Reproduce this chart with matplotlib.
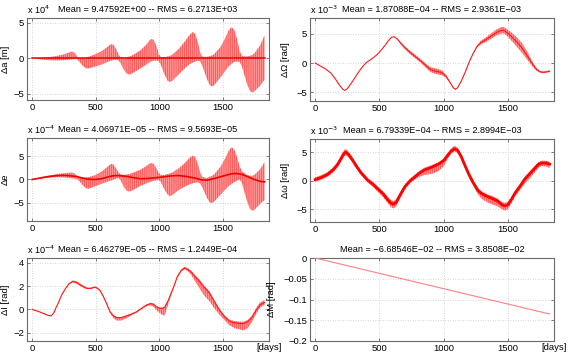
import numpy as np
import matplotlib
matplotlib.use("Agg")
import matplotlib.pyplot as plt

plt.rcParams['font.family'] = ['Liberation Sans', 'DejaVu Sans']
plt.rcParams['font.size'] = 6.8
plt.rcParams['hatch.linewidth'] = 0.4
plt.rcParams['axes.unicode_minus'] = True

# ---------------- data ----------------
# envelope grid for delta-a and delta-e (days)
days_env = [0, 50, 100, 150, 200, 250, 280, 300, 315, 330, 345, 358, 375, 400, 420, 435, 450,
            500, 550, 590, 610, 625, 640, 660, 680, 695, 720, 745, 765, 785,
            850, 900, 920, 937, 955, 975, 995, 1010, 1040, 1065, 1082, 1100,
            1150, 1200, 1240, 1262, 1280, 1300, 1320, 1335, 1370, 1395, 1412, 1430,
            1480, 1520, 1545, 1565, 1585, 1605, 1630, 1648, 1685, 1710, 1728, 1745, 1790, 1826]

# delta a  (x 1e4 m)
a_upper = [0, 0.03, 0.1, 0.2, 0.35, 0.55, 0.75, 0.9, 0.95, 0.85, 0.5, 0.12, 0.05, 0.05, 0.1, 0.15, 0.25,
           0.6, 1.05, 1.6, 1.9, 2.0, 1.9, 1.3, 0.5, 0.15, 0.1, 0.15, 0.25, 0.4,
           1.1, 2.0, 2.5, 2.75, 2.6, 1.8, 0.6, 0.2, 0.15, 0.25, 0.35, 0.5,
           1.3, 2.4, 3.4, 3.7, 3.5, 2.4, 0.8, 0.25, 0.2, 0.3, 0.4, 0.6,
           1.6, 3.0, 4.0, 4.4, 4.1, 3.0, 1.0, 0.3, 0.25, 0.35, 0.45, 0.7, 1.8, 3.3]
a_lower = [0, -0.12, -0.22, -0.28, -0.3, -0.27, -0.22, -0.18, -0.15, -0.12, -0.1, -0.2, -0.6, -1.1, -1.4, -1.45, -1.4,
           -1.15, -0.85, -0.55, -0.4, -0.3, -0.25, -0.2, -0.3, -0.7, -1.6, -2.2, -2.3, -2.15,
           -1.45, -0.85, -0.6, -0.45, -0.35, -0.3, -0.4, -0.9, -2.3, -3.2, -3.35, -3.2,
           -2.3, -1.4, -0.8, -0.6, -0.45, -0.35, -0.45, -1.0, -2.8, -3.8, -4.0, -3.8,
           -2.7, -1.7, -1.1, -0.8, -0.55, -0.45, -0.5, -1.2, -3.5, -4.6, -4.85, -4.7, -3.9, -3.0]
a_center_days = [0, 1826]
a_center = [0.0, 0.0]

# delta e  (x 1e-4)
e_center = [0, 0.25, 0.5, 0.7, 0.85, 0.9, 0.85, 0.8, 0.75, 0.7, 0.65, 0.6, 0.45, 0.3, 0.15, 0.1, 0.05,
            0.0, 0.2, 0.5, 0.65, 0.75, 0.8, 0.85, 0.85, 0.8, 0.75, 0.65, 0.55, 0.45,
            0.15, 0.2, 0.25, 0.3, 0.35, 0.4, 0.45, 0.5, 0.6, 0.7, 0.75, 0.8,
            0.85, 0.7, 0.5, 0.4, 0.3, 0.15, 0.0, -0.1, -0.15, 0.0, 0.1, 0.2,
            0.6, 0.9, 1.1, 1.2, 1.3, 1.3, 1.2, 1.1, 0.7, 0.4, 0.2, 0.0, -0.4, -0.5]
e_upper = [0, 0.35, 0.7, 0.95, 1.2, 1.35, 1.45, 1.5, 1.5, 1.35, 1.0, 0.7, 0.5, 0.45, 0.45, 0.5, 0.55,
           1.0, 1.8, 2.7, 3.2, 3.4, 3.2, 2.4, 1.5, 1.1, 1.0, 1.1, 1.2, 1.4,
           2.1, 3.0, 3.4, 3.6, 3.4, 2.5, 1.4, 1.0, 1.0, 1.2, 1.3, 1.5,
           2.4, 3.6, 4.8, 5.2, 4.9, 3.5, 1.5, 0.6, 0.3, 0.6, 0.8, 1.1,
           2.8, 4.8, 6.3, 7.0, 6.6, 5.2, 2.8, 1.8, 1.0, 0.8, 0.8, 1.0, 2.2, 3.8]
e_lower = [0, 0.15, 0.3, 0.45, 0.5, 0.45, 0.35, 0.3, 0.25, 0.2, 0.15, 0.0, -0.5, -1.3, -1.85, -2.0, -1.95,
           -1.4, -0.9, -0.5, -0.3, -0.2, 0.0, 0.2, 0.3, -0.2, -1.6, -2.5, -2.6, -2.4,
           -1.4, -0.8, -0.6, -0.45, -0.3, -0.2, -0.1, -0.5, -2.2, -3.3, -3.6, -3.4,
           -2.3, -1.5, -1.0, -0.8, -0.7, -0.6, -0.9, -1.6, -3.8, -5.0, -5.1, -4.8,
           -3.3, -2.1, -1.4, -1.0, -0.6, -0.3, 0.0, -0.8, -4.5, -6.3, -6.8, -6.6, -5.3, -4.4]

# delta Omega (x 1e-3 rad)
days_O = [0, 40, 80, 122, 160, 190, 215, 230, 250, 280, 310, 340, 370, 400, 440, 480, 510, 540,
          570, 595, 615, 640, 670, 700, 740, 780, 820, 860, 890, 920, 960, 990, 1020, 1050,
          1075, 1092, 1110, 1140, 1170, 1200, 1230, 1260, 1290, 1330, 1370, 1410, 1450, 1470,
          1500, 1530, 1570, 1610, 1650, 1690, 1720, 1750, 1780, 1826]
O_center = [0, -0.5, -1.0, -1.7, -2.8, -3.8, -4.5, -4.7, -4.4, -3.5, -2.5, -1.5, -0.6, 0.1, 0.7, 1.4, 2.1, 2.9,
            3.8, 4.4, 4.5, 4.1, 3.3, 2.6, 1.8, 1.1, 0.4, -0.4, -1.0, -1.3, -1.5, -1.7, -2.3, -3.3,
            -4.2, -4.5, -4.2, -3.0, -1.5, 0.2, 1.6, 2.8, 3.5, 4.0, 4.6, 5.2, 5.6, 5.6,
            5.1, 4.5, 3.6, 2.6, 1.3, -0.1, -1.0, -1.5, -1.6, -1.4]
O_halfwidth = [0, 0, 0, 0, 0, 0, 0, 0, 0, 0, 0, 0, 0, 0, 0, 0, 0, 0,
               0, 0, 0, 0.1, 0.2, 0.25, 0.3, 0.3, 0.3, 0.35, 0.4, 0.45, 0.45, 0.4, 0.25, 0.1,
               0.05, 0.03, 0.03, 0.03, 0.03, 0.03, 0.05, 0.15, 0.3, 0.4, 0.45, 0.5, 0.55, 0.55,
               0.6, 0.7, 0.8, 0.85, 0.7, 0.4, 0.25, 0.15, 0.15, 0.15]

# delta omega (x 1e-3 rad)
days_w = [0, 50, 96, 140, 174, 200, 225, 240, 260, 292, 320, 357, 390, 409, 450, 487, 530, 565,
          590, 610, 630, 669, 700, 740, 773, 810, 852, 900, 930, 960, 1000, 1034, 1060, 1085,
          1110, 1138, 1170, 1200, 1230, 1268, 1300, 1346, 1390, 1424, 1455, 1477, 1500, 1530,
          1555, 1600, 1633, 1670, 1711, 1740, 1763, 1800, 1826]
w_center = [0.2, 0.6, 1.1, 1.9, 2.8, 3.8, 4.8, 5.0, 4.6, 3.6, 2.6, 1.4, 0.6, 0.1, -0.6, -1.4, -2.3, -3.3,
            -3.9, -4.1, -3.8, -2.2, -1.0, 0.0, 0.6, 1.3, 1.9, 2.3, 2.6, 2.9, 3.5, 4.5, 5.2, 5.6,
            5.3, 4.2, 2.5, 1.0, -0.3, -1.7, -2.3, -2.8, -3.2, -3.6, -4.2, -4.4, -4.2, -3.2,
            -2.2, -0.8, 0.3, 1.2, 2.2, 2.9, 3.1, 3.1, 2.9]
w_updev = [0.4, 0.4, 0.4, 0.45, 0.45, 0.5, 0.55, 0.55, 0.5, 0.45, 0.4, 0.4, 0.4, 0.4, 0.4, 0.4, 0.45, 0.5,
           0.55, 0.55, 0.5, 0.45, 0.4, 0.4, 0.4, 0.4, 0.4, 0.35, 0.35, 0.35, 0.35, 0.4, 0.45, 0.5,
           0.5, 0.45, 0.4, 0.4, 0.4, 0.4, 0.4, 0.4, 0.4, 0.45, 0.5, 0.55, 0.5, 0.45,
           0.4, 0.4, 0.4, 0.4, 0.4, 0.4, 0.4, 0.4, 0.4]
w_lodev = [0.4, 0.4, 0.4, 0.45, 0.45, 0.5, 0.55, 0.55, 0.5, 0.45, 0.4, 0.4, 0.4, 0.4, 0.45, 0.5, 0.55, 0.6,
           0.7, 0.75, 0.7, 0.55, 0.45, 0.4, 0.45, 0.6, 0.9, 1.1, 1.2, 1.2, 1.0, 0.6, 0.45, 0.45,
           0.45, 0.45, 0.45, 0.5, 0.5, 0.7, 0.9, 1.0, 1.0, 0.9, 0.8, 0.8, 0.8, 0.7,
           0.6, 0.7, 0.8, 0.8, 0.7, 0.6, 0.5, 0.6, 0.7]

# delta I (x 1e-4 rad)
days_I = [0, 45, 91, 130, 150, 170, 190, 208, 230, 260, 290, 320, 350, 378, 410, 430, 460, 490,
          508, 535, 560, 585, 612, 640, 664, 700, 742, 780, 820, 860, 898, 930, 951, 980, 1003,
          1025, 1042, 1070, 1107, 1140, 1172, 1198, 1225, 1250, 1280, 1315, 1350, 1393, 1430,
          1471, 1510, 1549, 1590, 1628, 1660, 1693, 1725, 1758, 1790, 1826]
I_center = [0, -0.15, -0.35, -0.52, -0.55, -0.3, 0.2, 0.6, 1.2, 1.75, 2.2, 2.4, 2.3, 2.1, 1.9, 1.8, 1.8, 1.9,
            1.85, 1.6, 1.1, 0.5, -0.2, -0.55, -0.7, -0.7, -0.55, -0.4, -0.2, 0.1, 0.37, 0.5, 0.45, 0.2, 0.1,
            0.1, 0.2, 0.8, 1.8, 2.8, 3.35, 3.55, 3.4, 3.2, 2.8, 2.4, 1.9, 1.4, 0.7,
            -0.05, -0.6, -1.0, -1.15, -1.2, -1.2, -1.05, -0.7, -0.1, 0.4, 0.6]
I_updev = [0.02, 0.02, 0.02, 0.02, 0.02, 0.02, 0.02, 0.02, 0.02, 0.03, 0.05, 0.08, 0.1, 0.1, 0.08, 0.06, 0.06, 0.06,
           0.06, 0.05, 0.04, 0.03, 0.04, 0.06, 0.06, 0.05, 0.05, 0.04, 0.04, 0.04, 0.05, 0.06, 0.06, 0.05, 0.05,
           0.05, 0.05, 0.04, 0.04, 0.05, 0.08, 0.1, 0.1, 0.1, 0.12, 0.15, 0.15, 0.15, 0.12,
           0.1, 0.1, 0.12, 0.15, 0.15, 0.15, 0.15, 0.15, 0.2, 0.2, 0.2]
I_lodev = [0.02, 0.02, 0.02, 0.02, 0.02, 0.02, 0.02, 0.02, 0.02, 0.03, 0.05, 0.08, 0.1, 0.1, 0.08, 0.06, 0.06, 0.06,
           0.06, 0.05, 0.05, 0.08, 0.12, 0.2, 0.25, 0.25, 0.2, 0.1, 0.08, 0.08, 0.1, 0.15, 0.2, 0.3, 0.4,
           0.6, 0.7, 0.3, 0.1, 0.1, 0.1, 0.1, 0.15, 0.25, 0.4, 0.6, 0.7, 0.7, 0.6,
           0.4, 0.3, 0.35, 0.45, 0.5, 0.6, 0.55, 0.4, 0.3, 0.25, 0.2]

# delta M (rad)
days_M = [0, 1826]
M_vals = [0.0, -0.135]

titles = ["Mean = 9.47592E+00 -- RMS = 6.2713E+03",
          "Mean = 1.87088E\u221204 -- RMS = 2.9361E\u221203",
          "Mean = 4.06971E\u221205 -- RMS = 9.5693E\u221205",
          "Mean = 6.79339E\u221204 -- RMS = 2.8994E\u221203",
          "Mean = 6.46279E\u221205 -- RMS = 1.2449E\u221204",
          "Mean = \u22126.68546E\u221202 -- RMS = 3.8508E\u221202"]
ylabels = ["\u0394a [m]", "\u0394\u03a9 [rad]", "\u0394e", "\u0394\u03c9 [rad]", "\u0394I [rad]", "\u0394M [rad]"]
exponents = ["4", "\u22123", "\u22124", "\u22123", "\u22124", None]
xticks = [0, 500, 1000, 1500]

# ---------------- figure ----------------
W, H = 568, 355
fig = plt.figure(figsize=(W / 100, H / 100), dpi=100)

# axes boxes in pixels: left, top, right, bottom
boxes = [(27, 18, 269, 100), (310, 18, 554, 101),
         (27, 138, 269, 221), (310, 139, 554, 222),
         (27, 258, 269, 341), (310, 258, 554, 341)]
ylims = [(-5.9, 5.7), (-6.5, 7.7), (-9, 9), (-7.2, 7.3), (-2.7, 4.4), (-0.2, 0)]
yticks = [[-5, 0, 5], [-5, 0, 5], [-5, 0, 5], [-5, 0, 5], [-2, 0, 2, 4],
          [-0.2, -0.15, -0.1, -0.05, 0]]
ylabel_x = [-0.07, -0.082, -0.07, -0.082, -0.07, -0.14]

axes = []
for (l, t, r, b) in boxes:
    ax = fig.add_axes([l / W, 1 - b / H, (r - l) / W, (b - t) / H])
    axes.append(ax)

band_face = (1.0, 0.58, 0.58)
band_edge = (1.0, 0.2, 0.2)


def band(ax, d, lo, up):
    ax.fill_between(d, lo, up, facecolor=band_face, edgecolor=band_edge,
                    hatch='||||||||', linewidth=0, zorder=2)


# delta a
band(axes[0], days_env, a_lower, a_upper)
axes[0].plot(a_center_days, a_center, color=(0.92, 0, 0), lw=1.1, zorder=3)
# delta Omega
Oc = np.array(O_center); Oh = np.array(O_halfwidth)
band(axes[1], days_O, Oc - Oh, Oc + Oh)
axes[1].plot(days_O, O_center, color=(1, 0.1, 0.1), lw=0.8, zorder=3)
# delta e
band(axes[2], days_env, e_lower, e_upper)
axes[2].plot(days_env, e_center, color=(0.95, 0, 0), lw=1.2, zorder=3)
# delta omega
wc = np.array(w_center)
band(axes[3], days_w, wc - np.array(w_lodev), wc + np.array(w_updev))
axes[3].plot(days_w, w_center, color=(1, 0, 0), lw=2.0, zorder=3)
# delta I
Ic = np.array(I_center)
band(axes[4], days_I, Ic - np.array(I_lodev), Ic + np.array(I_updev))
axes[4].plot(days_I, I_center, color=(1, 0.1, 0.1), lw=0.8, zorder=3)
# delta M
axes[5].plot(days_M, M_vals, color=(1, 0.5, 0.5), lw=0.8, zorder=3)

for i, ax in enumerate(axes):
    ax.set_xlim(-40, 1860)
    ax.set_ylim(*ylims[i])
    ax.set_xticks(xticks)
    ax.set_yticks(yticks[i])
    if i == 5:
        ax.set_yticklabels(["\u22120.2", "\u22120.15", "\u22120.1", "\u22120.05", "0"])
    else:
        ax.set_yticklabels([("\u2212%g" % abs(v)) if v < 0 else "%g" % v for v in yticks[i]])
    ax.grid(True, linestyle=(0, (1, 2)), color='#c8c8c8', linewidth=0.6)
    ax.set_axisbelow(True)
    for s in ax.spines.values():
        s.set_color('#6a6a6a')
        s.set_linewidth(0.8)
    ax.tick_params(direction='in', length=2.5, width=0.6, color='#6a6a6a',
                   labelsize=6.8, top=True, right=True)
    ax.tick_params(axis='x', pad=2)
    ax.tick_params(axis='y', pad=2)
    ax.set_title(titles[i], fontsize=6.6, pad=4)
    ax.set_ylabel(ylabels[i], fontsize=6.8)
    ax.yaxis.set_label_coords(ylabel_x[i], 0.5)
    if exponents[i] is not None:
        ax.text(0.0, 1.02, "x 10$^{%s}$" % exponents[i], transform=ax.transAxes,
                ha='left', va='bottom', fontsize=6.6)

for ax in axes[4:]:
    ax.annotate('[days]', xy=(1, 0), xycoords='axes fraction', xytext=(0, -7),
                textcoords='offset pixels', ha='center', va='center', fontsize=6.8)

fig.savefig('out.png', dpi=100)
